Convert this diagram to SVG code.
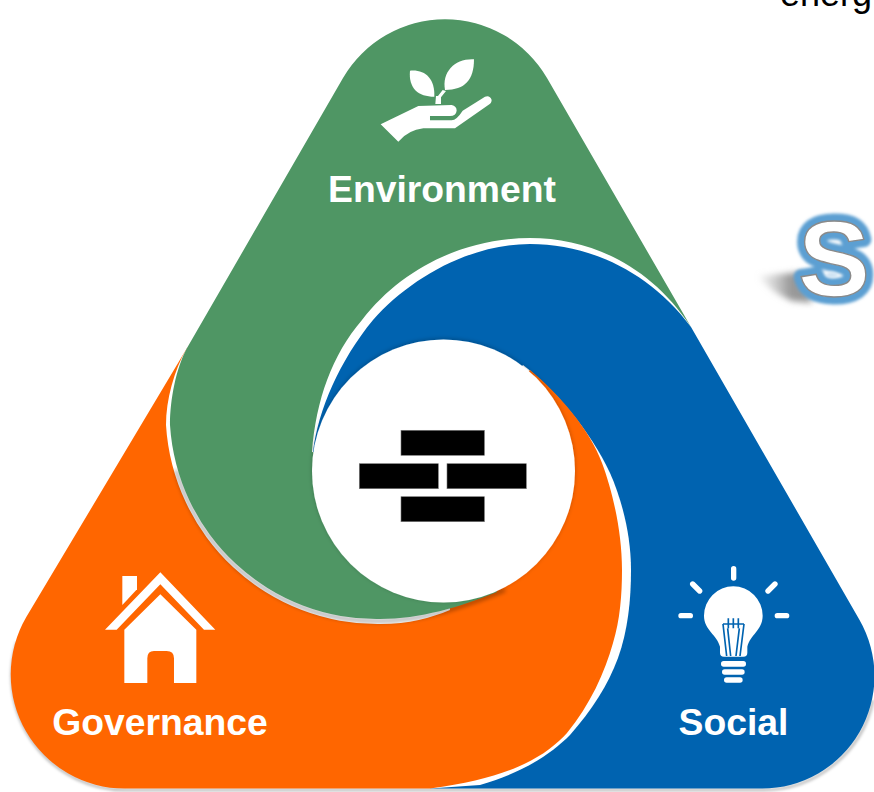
<svg xmlns="http://www.w3.org/2000/svg" width="874" height="792" viewBox="0 0 874 792">
<style>
.lbl{font-family:"Liberation Sans",Arial,sans-serif;font-weight:bold;font-size:37.3px;fill:#fff}
.ic{fill:#fff}
.brick{fill:#000;stroke:#777;stroke-width:.6}
</style>
<defs>
<filter id="b1" x="-50%" y="-50%" width="200%" height="200%"><feGaussianBlur stdDeviation="1.5"/></filter>
<filter id="b2" x="-20%" y="-20%" width="140%" height="140%"><feGaussianBlur stdDeviation="2"/></filter>
<filter id="b3" x="-30%" y="-30%" width="160%" height="160%"><feGaussianBlur stdDeviation="3"/></filter>
<filter id="cs" x="-10%" y="-10%" width="120%" height="120%"><feDropShadow dx="0" dy="-1" stdDeviation="2" flood-color="#000" flood-opacity=".25"/></filter>
<linearGradient id="sg" x1="0" x2="1" y1="0" y2="0"><stop offset="0" stop-color="#bbb" stop-opacity=".1"/><stop offset=".6" stop-color="#999"/><stop offset="1" stop-color="#999"/></linearGradient>
</defs>
<g id="word-fragment">
<text x="780" y="6" font-family="Liberation Sans, Arial, sans-serif" font-size="36" fill="#000">energ</text>
</g>
<g id="letter-s">
<path d="M758,276 L802,272 L812,303 L792,301 Q770,292 758,276Z" fill="url(#sg)" filter="url(#b3)"/>
<text x="798" y="296" font-family="Liberation Sans, Arial, sans-serif" font-weight="bold" font-size="108" fill="#5B9FD2" stroke="#5B9FD2" stroke-width="15" stroke-linejoin="round" filter="url(#b1)">S</text>
<text x="798" y="296" font-family="Liberation Sans, Arial, sans-serif" font-weight="bold" font-size="108" fill="#fff" stroke="#8a8a8a" stroke-width="1.4">S</text>
<ellipse cx="832" cy="275" rx="6" ry="3" fill="#cfe3f3" filter="url(#b1)"/>
</g>
<path id="outer-shadow" d="M17,642 A114,114 0 0 0 125,790 L762,790 A112.500,112.500 0 0 0 873,700" fill="none" stroke="#000" stroke-opacity=".3" stroke-width="2.500" filter="url(#b1)"/>
<g id="social">
<path d="M691,327 L859.400,619.750 A112.500,112.500 0 0 1 762,788.500 L430,788.500 L443,470 L313,452 C318,410 340,360 373,320 C410,278 470,244 530,244 C590,244 650,272 691,327Z" fill="#0063B0"/>
</g>
<g id="governance">
<path d="M523,365 C555,390 590,430 610,473 C622,500 631,535 631,570 C631,600 628,630 618,658 C608,685 592,710 570,735 C552,753 525,772 480,785 L430,788.500 L440,470Z" fill="#fff"/>
<path d="M530,370 C560,395 590,430 602,463 C612,490 622,530 622,570 C622,595 620,620 613,643 C605,672 590,705 567,733 C545,757 510,778 430,788.500 L125,788.500 A114,114 0 0 1 26.300,617 L187,348 L300,470 L443,470Z" fill="#FF6600"/>
</g>
<g id="environment">
<path d="M187,348 C174,370 166,400 166,425 A212,212 0 0 0 380,624 C410,624 430,618 450,610 L440,470 L313,470Z" fill="#fff"/>
<path d="M176,470 A208,208 0 0 0 380,621 C420,621 460,608 505,590" fill="none" stroke="#000" stroke-opacity=".4" stroke-width="3" filter="url(#b2)"/>
<path d="M343,78 A118,118 0 0 1 547,78 L691,327 C650,265 590,238 530,238 C465,238 402,268 362,320 C332,355 316,400 312,452 L440,470 L497,592 C460,607 420,619 380,619 A207,207 0 0 1 170,425 C170,400 176,368 187,348Z" fill="#4F9664"/>
<g transform="translate(340,40) scale(.3333)" class="ic">
<path d="M210,92 C255,88 285,115 283,170 C235,170 205,145 210,92Z"/>
<path d="M402,58 C402,120 375,150 315,150 C305,95 345,55 402,58Z"/>
<path d="M286,192 L288,168 L294,168 L308,150 L318,153 L303,172 L303,192Z"/>
<path d="M122,253 L235,198 L335,195 Q350,198 350,212 Q348,228 330,228 L270,228 L270,241 L335,241 Q350,240 368,212 L435,170 Q450,165 455,180 Q455,190 445,195 L345,265 L250,265 Q205,270 175,305Z"/>
</g>
<text x="442" y="202" text-anchor="middle" class="lbl">Environment</text>
</g>
<g id="hub">
<circle cx="443.500" cy="471" r="131.500" fill="#fff" filter="url(#cs)"/>
<rect class="brick" x="401" y="430.300" width="83.400" height="25"/>
<rect class="brick" x="359.300" y="463.700" width="79" height="25"/>
<rect class="brick" x="447" y="463.700" width="79.300" height="25"/>
<rect class="brick" x="401" y="496.700" width="83.400" height="25"/>
</g>
<g id="governance-icon" transform="translate(90,560) scale(.3333)" class="ic">
<path d="M211,37 L376,209 L342,209 L211,73 L80,209 L45,209Z"/>
<path d="M97,48 L141,48 L141,88 L97,135Z"/>
<path d="M211,103 L319,209 L319,369 L252,369 L252,295 Q252,273 230,273 L192,273 Q172,273 172,295 L172,369 L103,369 L103,209Z"/>
</g>
<text x="160" y="735" text-anchor="middle" class="lbl">Governance</text>
<g id="social-icon" transform="translate(660,550) scale(.3333)">
<g stroke="#fff" stroke-width="16" stroke-linecap="round" fill="none">
<path d="M221,56V84M98,102L119,123M345,102L324,123M63,197H91M352,197H380"/>
</g>
<path class="ic" d="M220,109 A88,88 0 0 1 308,197 C308,240 270,255 262,290 L262,308 Q262,320 250,320 L192,320 Q180,320 180,308 L180,290 C172,255 132,240 132,197 A88,88 0 0 1 220,109Z"/>
<g stroke="#0063B0" stroke-width="5" fill="none">
<path d="M189,222 L200,318M252,222 L240,318M189,222H252M205,205V235M220,205V235M235,205V235M203,235L212,318M238,235L228,318"/>
</g>
<rect class="ic" x="183" y="333" width="75" height="17" rx="8"/>
<rect class="ic" x="186" y="358" width="68" height="16" rx="8"/>
<rect class="ic" x="192" y="382" width="56" height="16" rx="8"/>
</g>
<text x="733.500" y="735" text-anchor="middle" class="lbl">Social</text>
</svg>
